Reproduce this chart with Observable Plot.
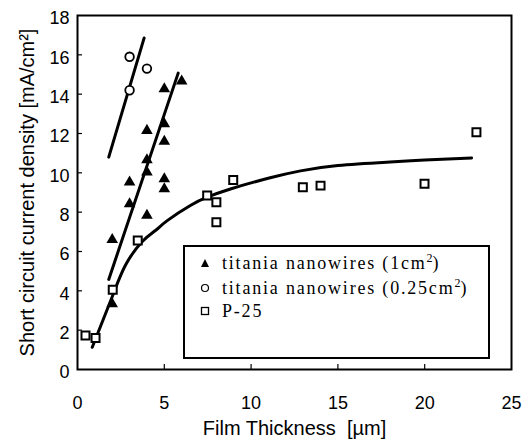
<!DOCTYPE html>
<html><head><meta charset="utf-8">
<script src="https://cdn.jsdelivr.net/npm/d3@7"></script>
<script src="https://cdn.jsdelivr.net/npm/@observablehq/plot@0.6"></script>
<style>
body{margin:0;background:#fff;}
#wrap{position:relative;width:523px;height:440px;}
#legend{position:absolute;left:183px;top:245px;width:303px;height:110px;border:2px solid #000;background:#fff;font-family:"Liberation Serif","Times New Roman",serif;font-size:18px;letter-spacing:1.8px;color:#000;}
.row{position:absolute;left:0;height:24px;width:300px;}
.row svg{position:absolute;left:15px;top:7px;}
.row span{position:absolute;left:37px;top:0;line-height:24px;white-space:nowrap;}
.row sup{font-size:12px;vertical-align:0;position:relative;top:-7px;letter-spacing:0;}
</style></head>
<body><div id="wrap"></div>
<script>
// titania nanowires (1 cm^2)
const nw1X = [2, 2, 3, 3, 4, 4, 4, 4, 5, 5, 5, 5, 5, 6];
const nw1Y = [3.34, 6.6, 8.42, 9.52, 7.83, 10.03, 10.66, 12.15, 9.18, 9.69, 11.6, 12.49, 14.27, 14.66];
// titania nanowires (0.25 cm^2)
const nw025X = [3, 3, 4];
const nw025Y = [14.2, 15.9, 15.3];
// P-25
const p25X = [0.46, 1.04, 2.03, 3.47, 7.47, 8.0, 8.0, 8.97, 12.98, 14.0, 19.99, 22.98];
const p25Y = [1.73, 1.6, 4.05, 6.56, 8.85, 8.5, 7.49, 9.64, 9.27, 9.35, 9.44, 12.06];
// fitted lines
const fit1X = [1.8, 5.8];
const fit1Y = [4.58, 15.07];
const fit025X = [1.8, 3.84];
const fit025Y = [10.8, 16.86];
const fitP25X = [0.85, 2.0, 2.76, 3.72, 4.49, 5.17, 6.5, 7.47, 8.81, 11.1, 12.85, 15, 18, 20, 22.7];
const fitP25Y = [1.13, 3.7, 5.3, 6.5, 7.07, 7.57, 8.34, 8.76, 9.18, 9.75, 10.1, 10.37, 10.55, 10.65, 10.76];
// ticks
const xTicks = [0, 5, 10, 15, 20, 25];
const yTicks = [0, 2, 4, 6, 8, 10, 12, 14, 16, 18];
const xInnerTicks = [5, 10, 15, 20];
const yInnerTicks = [2, 4, 6, 8, 10, 12, 14, 16];
const xTitle = "Film Thickness  [\u00b5m]";
const yTitle = "Short circuit current density [mA/cm\u00b2]";

const pts = (xs, ys) => xs.map((x, i) => ({x, y: ys[i]}));

const chart = Plot.plot({
  width: 523, height: 440,
  marginLeft: 77, marginRight: 12, marginTop: 15, marginBottom: 71,
  x: {domain: [0, 25]},
  y: {domain: [0, 18]},
  style: {fontFamily: "'Liberation Sans', Arial, sans-serif", fontSize: "18px", color: "#000", background: "#fff", overflow: "visible"},
  marks: [
    Plot.axisX(xInnerTicks, {tickSize: 5, dy: -5, fill: "none", strokeWidth: 1.2}),
    Plot.axisY(yInnerTicks, {tickSize: 5, dx: 5, fill: "none", strokeWidth: 1.2}),
    Plot.axisX(xTicks, {tickSize: 0, tickPadding: 27, label: null}),
    Plot.axisY(yTicks, {tickSize: 0, tickPadding: 8, dy: 3, label: null}),
    Plot.axisX([], {tickSize: 0, label: xTitle, labelAnchor: "center", labelArrow: "none", labelOffset: 65, fontSize: 20, dx: -5}),
    Plot.axisY([], {tickSize: 0, label: yTitle, labelAnchor: "center", labelArrow: "none", labelOffset: 58, fontSize: 20, dy: 3}),
    Plot.line(pts(fitP25X, fitP25Y), {x: "x", y: "y", curve: "natural", stroke: "#000", strokeWidth: 3}),
    Plot.line(pts(fit1X, fit1Y), {x: "x", y: "y", stroke: "#000", strokeWidth: 3}),
    Plot.line(pts(fit025X, fit025Y), {x: "x", y: "y", stroke: "#000", strokeWidth: 3}),
    Plot.dot(pts(nw1X, nw1Y), {x: "x", y: "y", symbol: "triangle", r: 4.3, fill: "#000", stroke: "none"}),
    Plot.dot(pts(nw025X, nw025Y), {x: "x", y: "y", symbol: "circle", r: 4.3, fill: "#fff", stroke: "#000", strokeWidth: 1.8}),
    Plot.dot(pts(p25X, p25Y), {x: "x", y: "y", symbol: "square", r: 4.5, fill: "#fff", stroke: "#000", strokeWidth: 2}),
    Plot.frame({stroke: "#000", strokeWidth: 2})
  ]
});
const wrap = document.getElementById("wrap");
wrap.appendChild(chart);

const legend = document.createElement("div");
legend.id = "legend";
legend.innerHTML = `
<div class="row" style="top:4px"><svg width="10" height="10"><path d="M5,1L9,9L1,9Z" fill="#000"/></svg><span>titania nanowires (1cm<sup>2</sup>)</span></div>
<div class="row" style="top:29px"><svg width="10" height="10"><circle cx="5" cy="5" r="3.5" fill="#fff" stroke="#000" stroke-width="1.2"/></svg><span>titania nanowires (0.25cm<sup>2</sup>)</span></div>
<div class="row" style="top:52px"><svg width="10" height="10"><rect x="1.5" y="1.5" width="7" height="7" fill="#fff" stroke="#000" stroke-width="1.3"/></svg><span>P-25</span></div>`;
wrap.appendChild(legend);
</script>
</body></html>
